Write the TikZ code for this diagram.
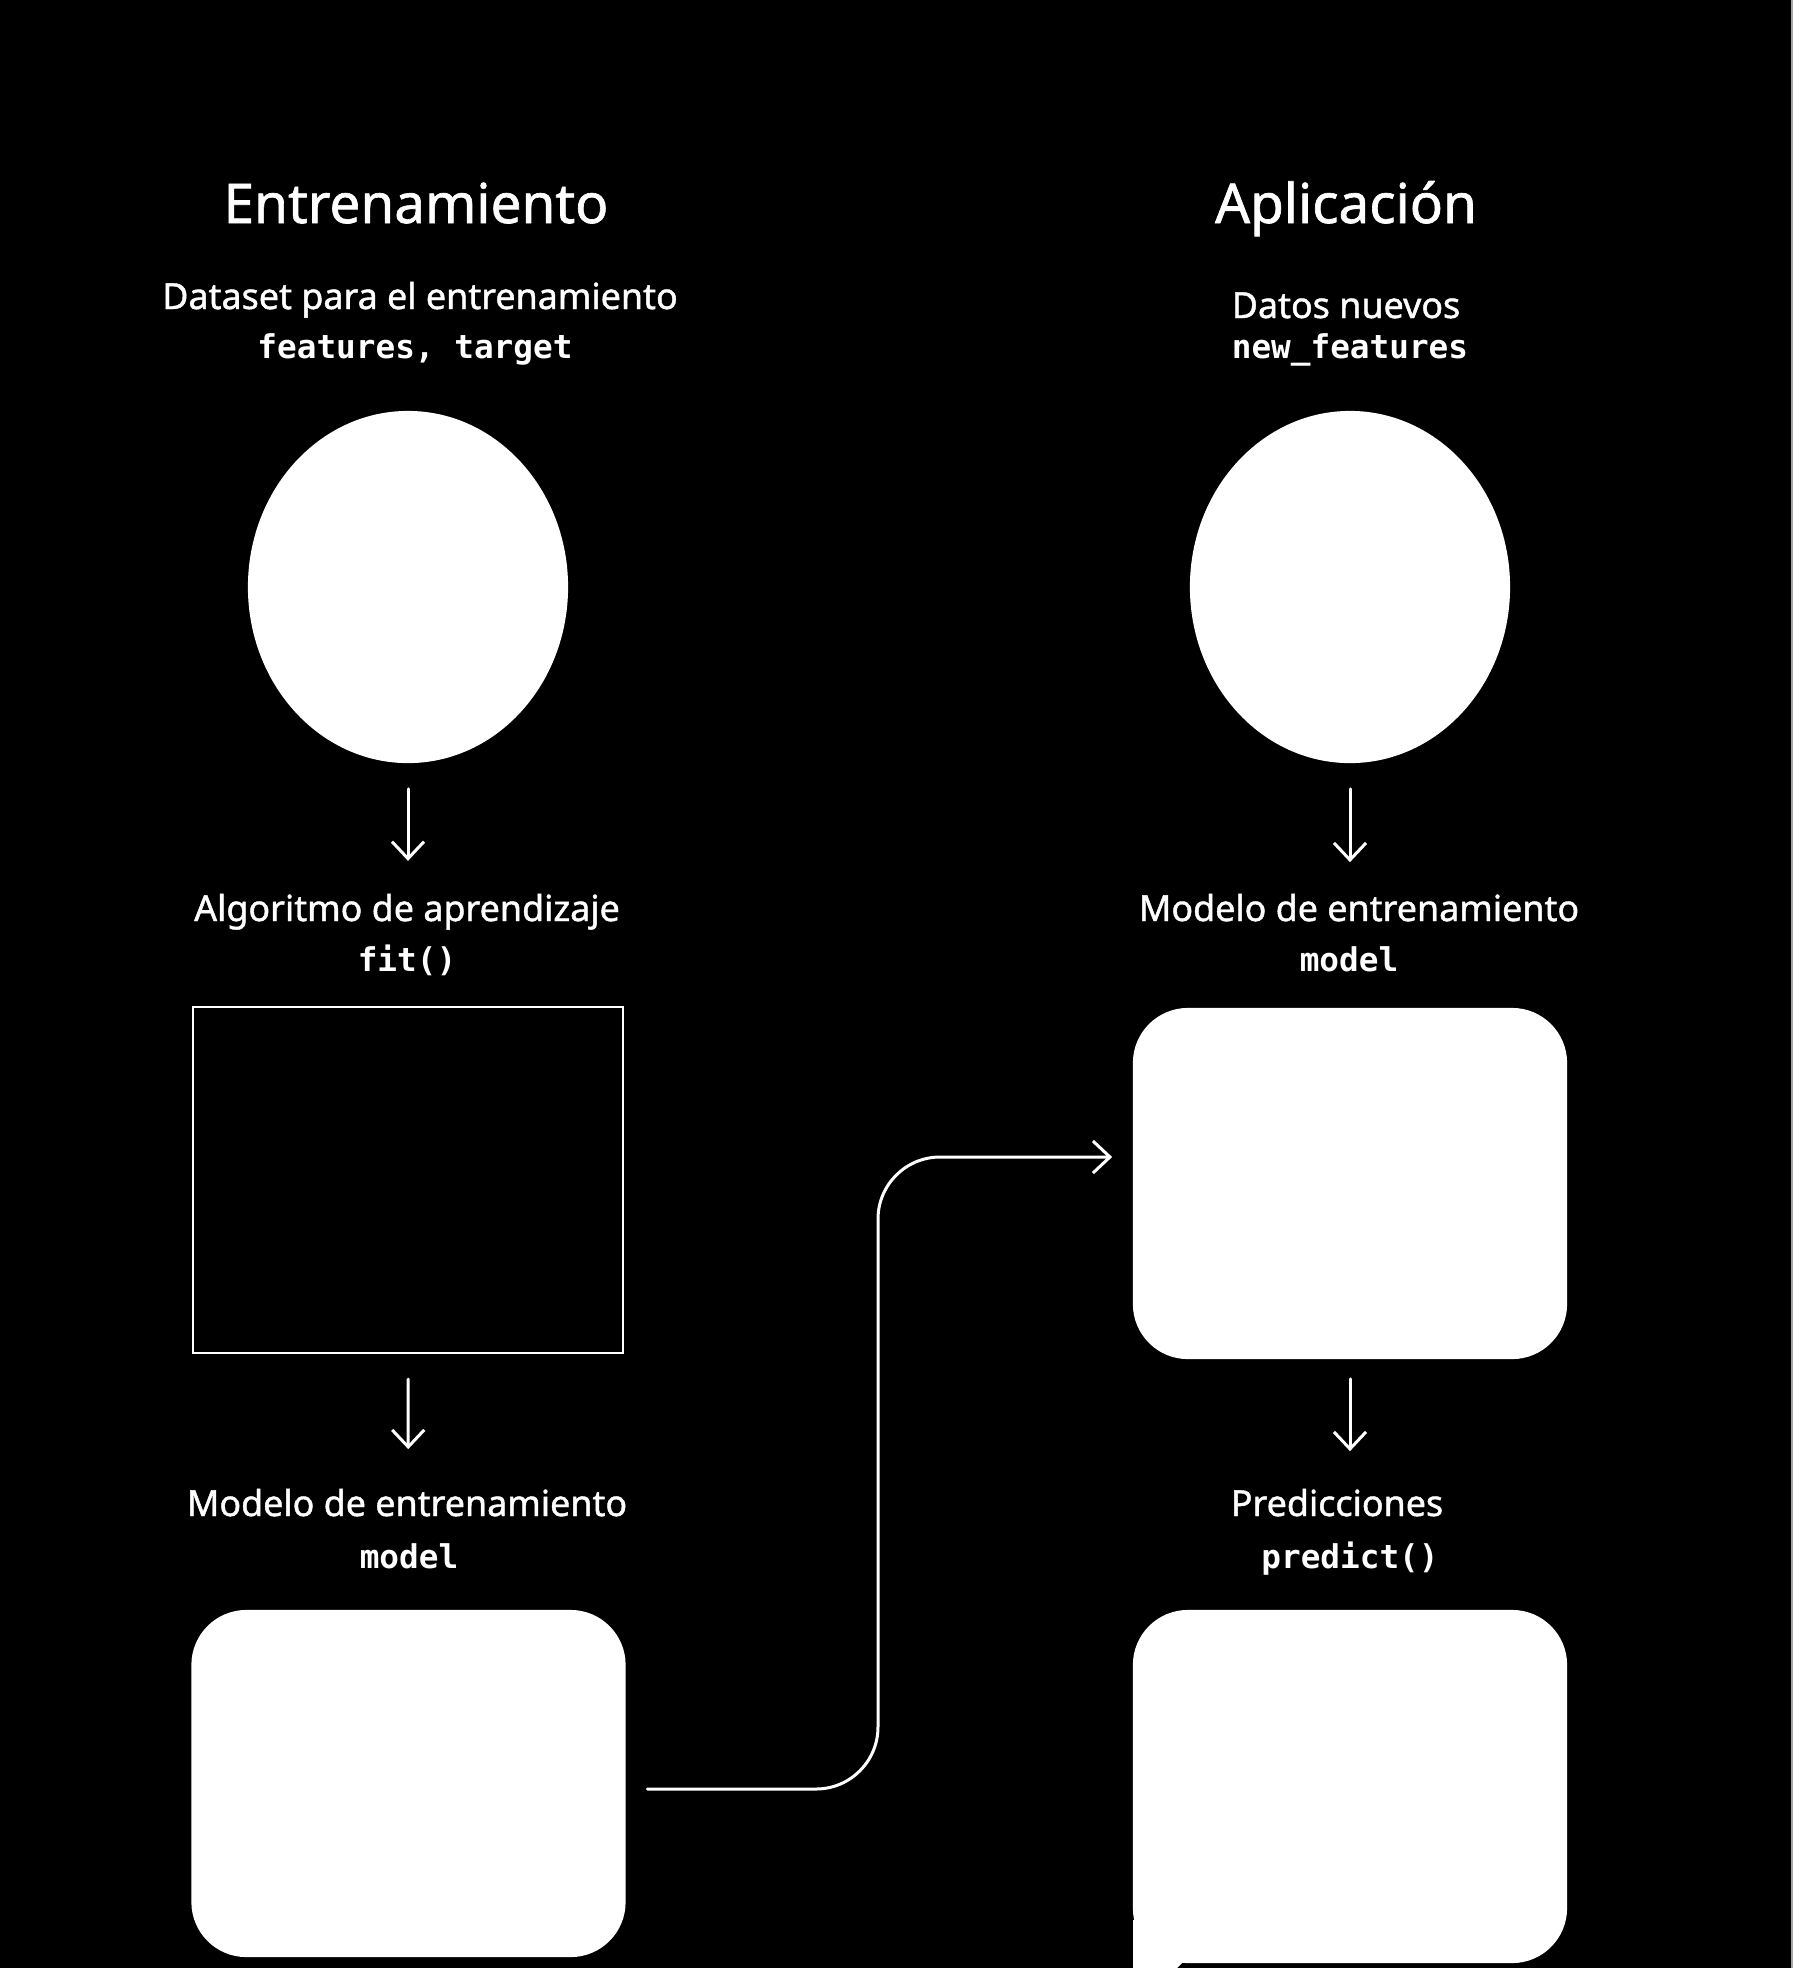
\documentclass[tikz,border=0pt]{standalone}
\usepackage{fontspec}
\setmainfont{Noto Sans}
\setmonofont{DejaVu Sans Mono}
\newfontfamily\boxfont{Noto Sans}[FakeBold=1.2, AutoFakeBold=1.2]
\usetikzlibrary{positioning,arrows.meta,shapes.geometric}
\tikzset{
  flowarrow/.style={-{Straight Barb[length=0.17cm, width=0.32cm]}, line width=0.03cm, white, line cap=round},
  coltitle/.style={anchor=base, inner sep=0pt, text=white, font=\fontsize{15.6}{18}\boxfont\bfseries},
  labeltext/.style={anchor=base, inner sep=0pt, text=white, font=\fontsize{10.2}{12}\boxfont\bfseries},
  codetext/.style={anchor=base, inner sep=0pt, text=white, font=\fontsize{9.3}{11}\selectfont\ttfamily\bfseries},
  datablob/.style={ellipse, fill=white, minimum width=3.2cm, minimum height=3.52cm, inner sep=0pt},
  algobox/.style={draw=white, line width=0.02cm, minimum width=4.3cm, minimum height=3.46cm, inner sep=0pt},
  modelbox/.style={fill=white, rounded corners=0.55cm, minimum width=4.34cm, minimum height=3.5cm, inner sep=0pt}
}

\begin{document}
\begin{tikzpicture}[x=0.01cm, y=-0.01cm]
  \fill[black] (0,0) rectangle (1793,1968);
  \fill[gray!70] (1791,0) rectangle (1793,1968);

  % entrenamiento
  \node[coltitle] (traintitle) at (416,223) {Entrenamiento};
  \node[labeltext] (traindesc) at (420,309) {Dataset para el entrenamiento};
  \node[codetext] (traincode) at (415,358) {features, target};
  \node[datablob] (trainset) at (408,587) {};
  \node[labeltext] (algodesc) at (407,921) {Algoritmo de aprendizaje};
  \node[codetext] (algocode) at (407,971) {fit()};
  \node[algobox] (fitbox) at (408,1180) {};
  \node[labeltext] (trainmdesc) at (407,1516) {Modelo de entrenamiento};
  \node[codetext] (trainmcode) at (409,1568) {model};
  \node[modelbox, minimum height=3.47cm] (trainedmodel) at (408.5,1783.5) {};

  % aplicacion
  \node[coltitle] (apptitle) at (1346,223) {Aplicación};
  \node[labeltext] (appdesc) at (1346,318) {Datos nuevos};
  \node[codetext] (appcode) at (1350,358) {new\_features};
  \node[datablob] (newdata) at (1350,587) {};
  \node[labeltext] (appmdesc) at (1359,921) {Modelo de entrenamiento};
  \node[codetext] (appmcode) at (1349,971) {model};
  \node[modelbox, minimum height=3.51cm] (appmodel) at (1350,1183.5) {};
  \node[labeltext] (preddesc) at (1337,1516) {Predicciones};
  \node[codetext] (predcode) at (1350,1568) {predict()};
  \node[modelbox, minimum height=3.53cm] (predbox) at (1350,1786.5) {};
  \fill[white] (1133,1920) -- (1133,1968) -- (1177,1968) -- (1183,1962) -- (1220,1962) -- (1220,1920) -- cycle;

  \draw[flowarrow, shorten <=0.25cm, shorten >=1.45cm] (trainset) -- (fitbox);
  \draw[flowarrow, shorten <=0.25cm, shorten >=1.6cm] (fitbox) -- (trainedmodel);
  \draw[flowarrow, shorten <=0.25cm, shorten >=1.45cm] (newdata) -- (appmodel);
  \draw[flowarrow, shorten <=0.19cm, shorten >=1.58cm] (appmodel) -- (predbox);
  \draw[flowarrow, rounded corners=0.62cm, shorten <=0.21cm, shorten >=0.2cm]
    (trainedmodel.east |- 0,1789) -| (878,1157) -- (appmodel.west |- 0,1157);
\end{tikzpicture}
\end{document}
